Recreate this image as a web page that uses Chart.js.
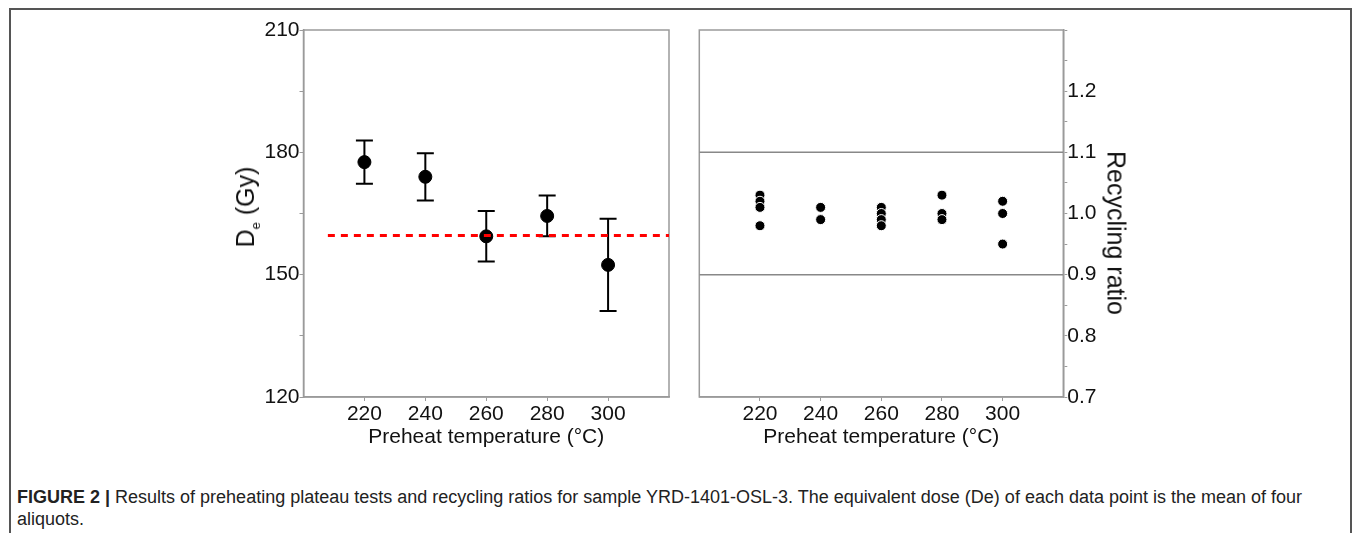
<!DOCTYPE html>
<html lang="en">
<head>
  <meta charset="UTF-8" />
  <title>Preheat plateau and recycling ratios</title>
  <script src="https://cdn.jsdelivr.net/npm/chart.js"></script>
  <style>
    body {
      margin: 0;
      background: #fff;
      font-family: 'Liberation Sans', Arial, sans-serif;
      color: #111;
    }
    .frame {
      position: absolute;
      left: 9px; top: 8px;
      width: 1339px; height: 600px;
      border: 2px solid #555;
      border-bottom: none;
    }
    canvas { position: absolute; }
    #deChart { left: 220px; top: 0; }
    #ratioChart { left: 680px; top: 0; }
    .ytitle {
      position: absolute;
      font-size: 25px;
      color: #111;
      white-space: nowrap;
      transform-origin: center center;
    }
    .ytitle sub { font-size: 13px; }
    #deTitle { left: 247px; top: 207px; transform: translate(-50%, -50%) rotate(-90deg); }
    #ratioTitle { left: 1116px; top: 233px; transform: translate(-50%, -50%) rotate(90deg); }
    .caption {
      position: absolute;
      left: 17px; top: 486px;
      font-size: 18px;
      line-height: 22px;
      color: #222;
      white-space: nowrap;
    }
  </style>
</head>
<body>
  <div class="frame"></div>
  <canvas id="deChart" width="460" height="454"></canvas>
  <canvas id="ratioChart" width="460" height="454"></canvas>
  <div class="ytitle" id="deTitle">D<sub>e</sub> (Gy)</div>
  <div class="ytitle" id="ratioTitle">Recycling ratio</div>
  <div class="caption"><b>FIGURE 2 |</b> Results of preheating plateau tests and recycling ratios for sample YRD-1401-OSL-3. The equivalent dose (De) of each data point is the mean of four<br>aliquots.</div>

  <script>
    // preheat temperatures (°C)
    const temps = [220, 240, 260, 280, 300];
    const xTicks = [220, 240, 260, 280, 300];

    // equivalent dose, mean and error (Gy)
    const deMean = [177.6, 174.0, 159.4, 164.4, 152.4];
    const deErr = [5.3, 5.8, 6.2, 5.0, 11.3];
    const meanDe = 159.6;
    const meanLineX = [208, 320];

    // recycling ratios per preheat temperature
    const ratio220 = [1.03, 1.02, 1.01, 0.98];
    const ratio240 = [1.01, 0.99];
    const ratio260 = [1.01, 1.00, 0.99, 0.98];
    const ratio280 = [1.03, 1.00, 0.99];
    const ratio300 = [1.02, 1.00, 0.95];
    const ratioLimits = [0.9, 1.1];

    const FONT = { family: "'Liberation Sans', Arial, sans-serif", size: 21 };
    const AXIS_GREY = '#9a9a9a';

    const boxPlugin = {
      id: 'box',
      beforeDatasetsDraw(chart) {
        const a = chart.chartArea, ctx = chart.ctx;
        ctx.save();
        ctx.strokeStyle = AXIS_GREY;
        ctx.lineWidth = 1.5;
        ctx.strokeRect(a.left, a.top, a.right - a.left, a.bottom - a.top);
        ctx.restore();
      }
    };

    const errorBars = {
      id: 'errorBars',
      beforeDatasetsDraw(chart) {
        const xs = chart.scales.x, ys = chart.scales.y, ctx = chart.ctx;
        ctx.save();
        ctx.strokeStyle = '#000';
        ctx.lineWidth = 2;
        temps.forEach((t, i) => {
          const x = xs.getPixelForValue(t);
          const yTop = ys.getPixelForValue(deMean[i] + deErr[i]);
          const yBot = ys.getPixelForValue(deMean[i] - deErr[i]);
          ctx.beginPath();
          ctx.moveTo(x, yTop); ctx.lineTo(x, yBot);
          ctx.moveTo(x - 8.5, yTop); ctx.lineTo(x + 8.5, yTop);
          ctx.moveTo(x - 8.5, yBot); ctx.lineTo(x + 8.5, yBot);
          ctx.stroke();
        });
        ctx.restore();
      }
    };

    function xScale() {
      return {
        type: 'linear',
        min: 200, max: 320,
        afterBuildTicks: (s) => { s.ticks = xTicks.map(v => ({ value: v })); },
        afterFit: (s) => { s.height = 57; },
        grid: { drawOnChartArea: false, tickLength: 4, color: AXIS_GREY },
        border: { color: AXIS_GREY, width: 1.5 },
        ticks: { color: '#111', font: FONT, padding: 1, maxRotation: 0 },
        title: { display: true, text: 'Preheat temperature (°C)', color: '#111', font: FONT, padding: 4 }
      };
    }

    new Chart(document.getElementById('deChart'), {
      type: 'scatter',
      data: {
        datasets: [
          {
            type: 'line',
            data: meanLineX.map(x => ({ x: x, y: meanDe })),
            borderColor: '#ff0000',
            borderWidth: 3,
            borderDash: [7, 6],
            pointRadius: 0
          },
          {
            data: temps.map((t, i) => ({ x: t, y: deMean[i] })),
            backgroundColor: '#000',
            borderColor: '#000',
            pointRadius: 6.5
          }
        ]
      },
      options: {
        responsive: false,
        animation: false,
        layout: { padding: { top: 30, right: 11, left: 0, bottom: 0 } },
        plugins: { legend: { display: false }, tooltip: { enabled: false } },
        scales: {
          x: xScale(),
          y: {
            min: 120, max: 210,
            ticks: {
              stepSize: 15,
              color: '#111', font: FONT, padding: 0,
              callback: (v) => (v % 30 === 0 ? String(v) : '')
            },
            afterFit: (s) => { s.width = 83.5; },
            grid: { drawOnChartArea: false, tickLength: 4, color: AXIS_GREY },
            border: { color: AXIS_GREY, width: 1.5 }
          }
        }
      },
      plugins: [boxPlugin, errorBars]
    });

    const ratioGroups = [ratio220, ratio240, ratio260, ratio280, ratio300];
    const ratioPoints = [];
    ratioGroups.forEach((g, i) => g.forEach(r => ratioPoints.push({ x: temps[i], y: r })));

    new Chart(document.getElementById('ratioChart'), {
      type: 'scatter',
      data: {
        datasets: [
          {
            data: ratioPoints,
            backgroundColor: '#000',
            borderColor: '#fff',
            borderWidth: 1,
            pointRadius: 5
          },
          ...ratioLimits.map(l => ({
            type: 'line',
            data: [{ x: 200, y: l }, { x: 320, y: l }],
            borderColor: '#888',
            borderWidth: 1.5,
            pointRadius: 0
          }))
        ]
      },
      options: {
        responsive: false,
        animation: false,
        layout: { padding: { top: 30, right: 8, left: 19.3, bottom: 0 } },
        plugins: { legend: { display: false }, tooltip: { enabled: false } },
        scales: {
          x: xScale(),
          y: {
            position: 'right',
            min: 0.7, max: 1.3,
            ticks: {
              stepSize: 0.05,
              color: '#111', font: FONT, padding: 0,
              callback: (v) => {
                const k = Math.round(v * 100);
                return (k % 10 === 0 && k < 125) ? (k / 100).toFixed(1) : '';
              }
            },
            afterFit: (s) => { s.width = 68.7; },
            grid: { drawOnChartArea: false, tickLength: 4, color: AXIS_GREY },
            border: { color: AXIS_GREY, width: 1.5 }
          }
        }
      },
      plugins: [boxPlugin]
    });
  </script>
</body>
</html>
